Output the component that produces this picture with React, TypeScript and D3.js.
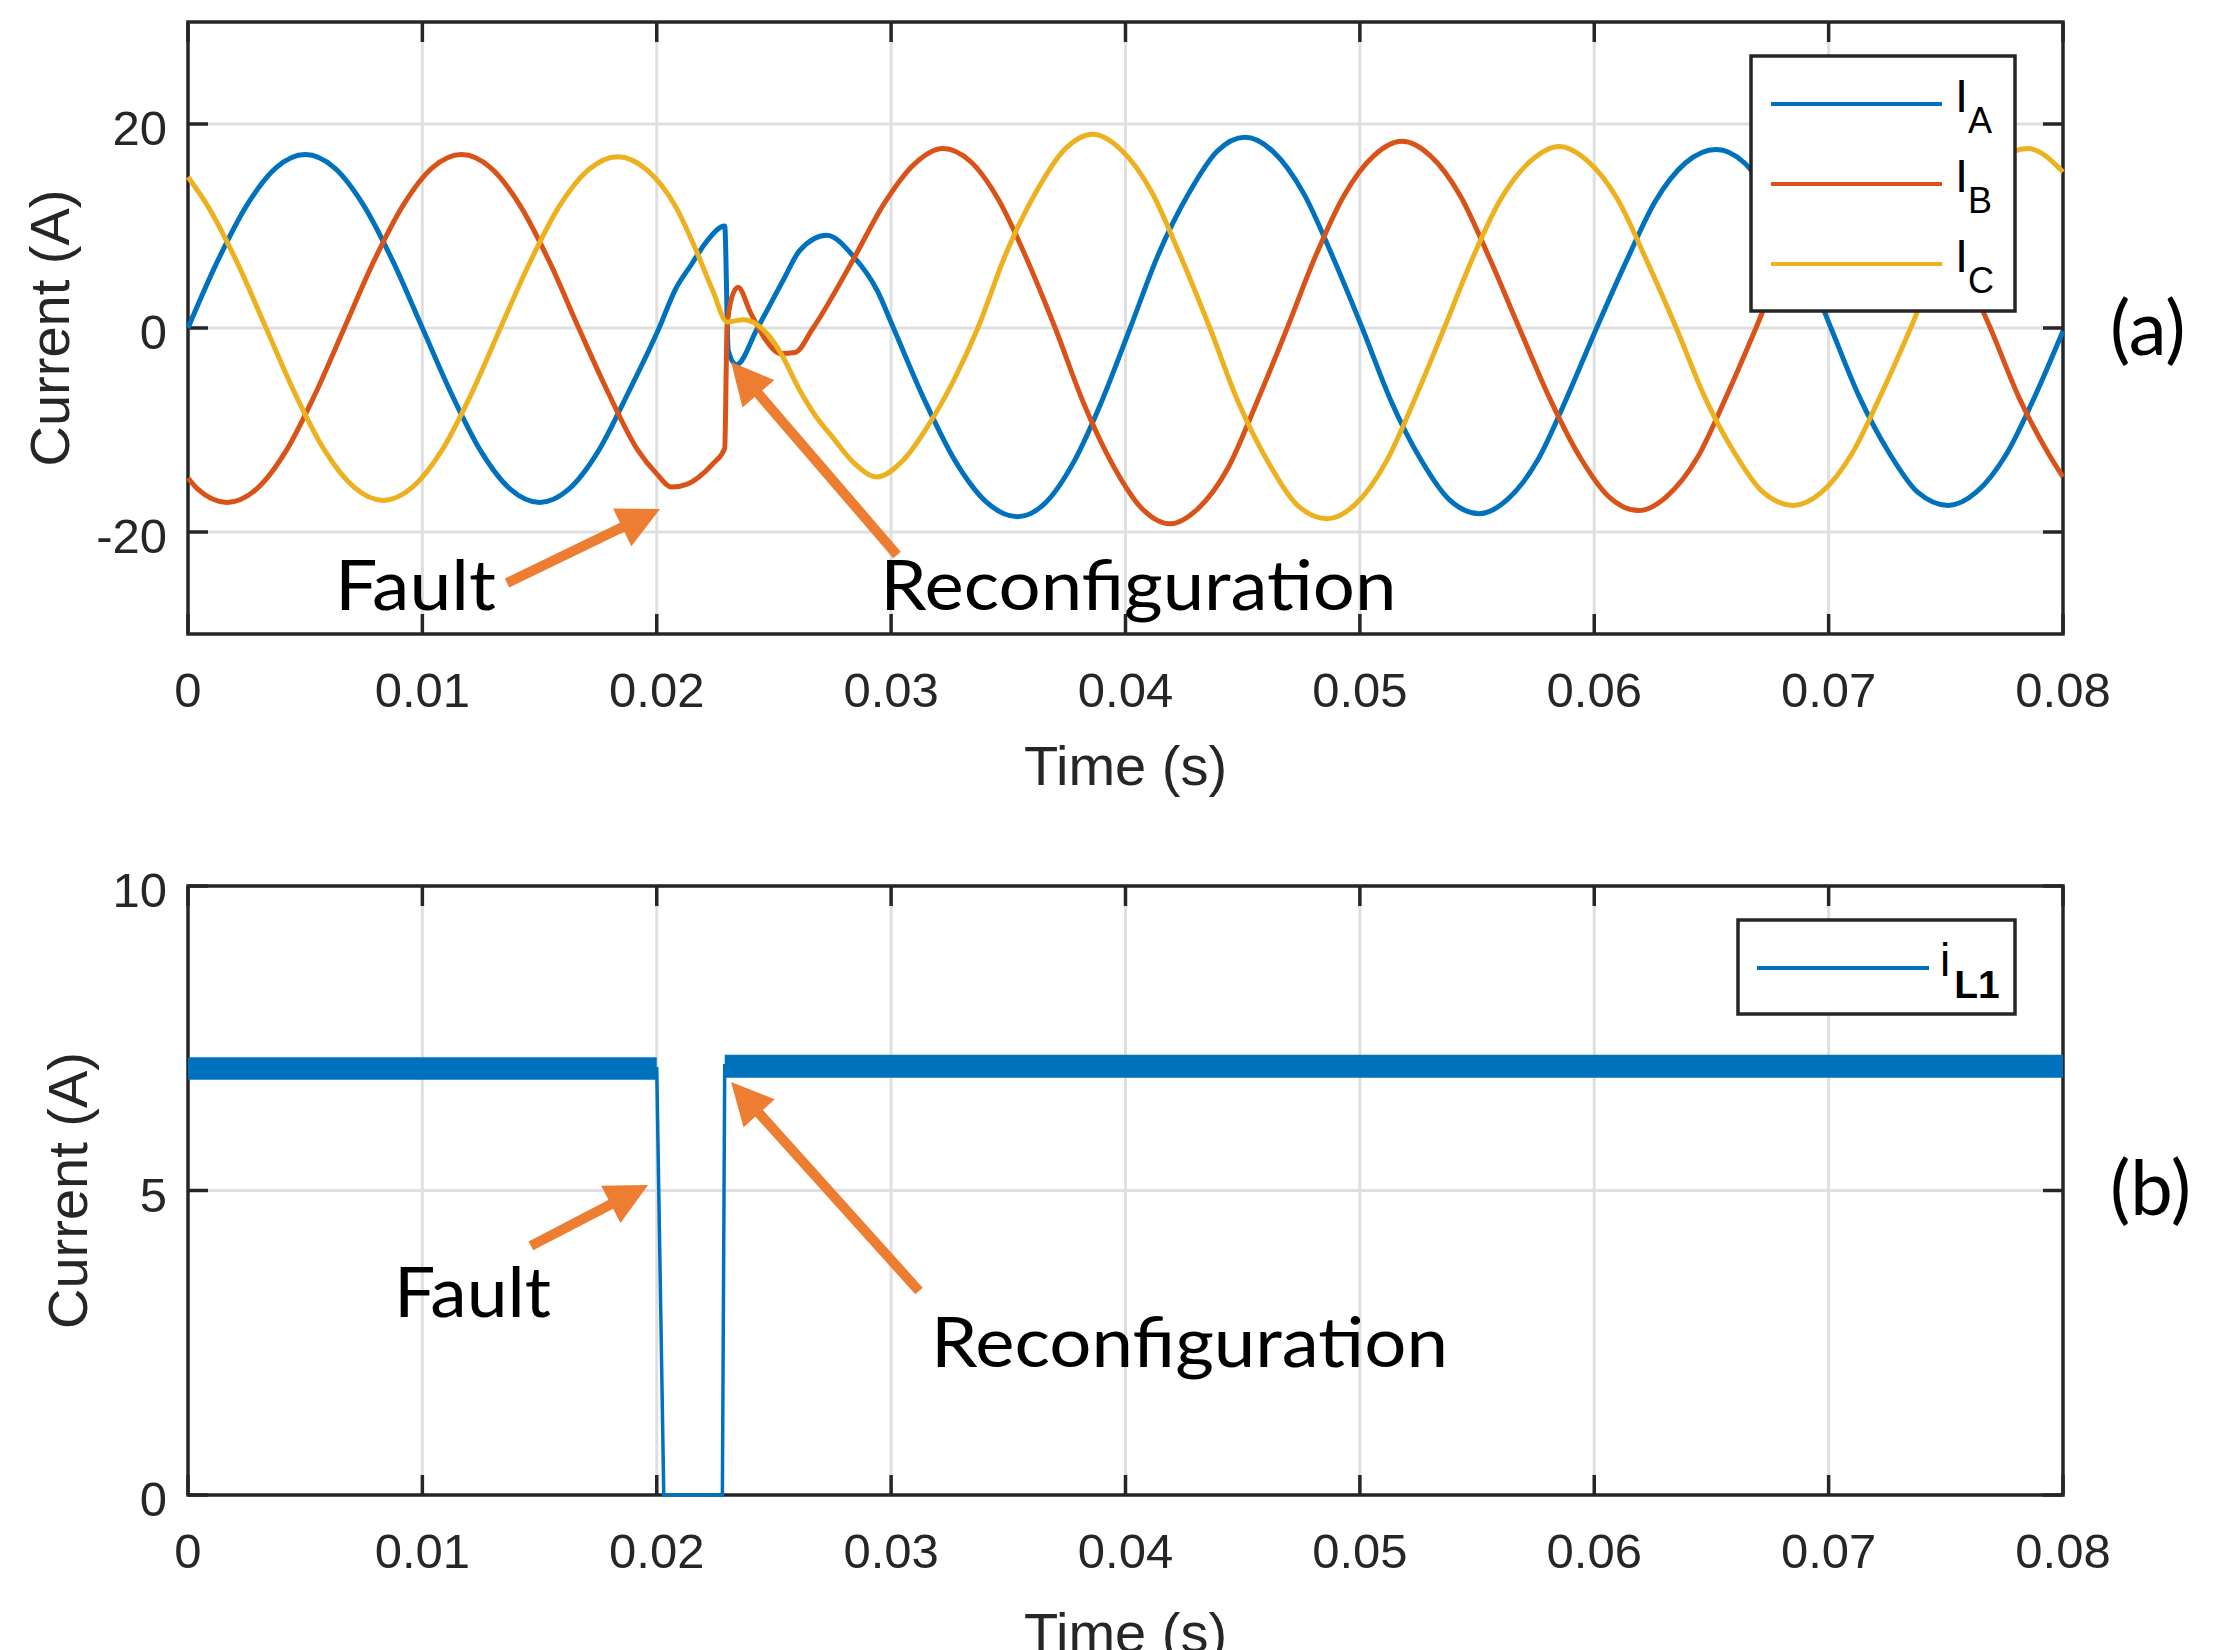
import React from 'react';
import * as d3 from 'd3';

// ---------- data ----------
const xTickValues = [0, 0.01, 0.02, 0.03, 0.04, 0.05, 0.06, 0.07, 0.08];
const xTickLabels = ['0', '0.01', '0.02', '0.03', '0.04', '0.05', '0.06', '0.07', '0.08'];
const yTicksA = [-20, 0, 20];
const yTickLabelsA = ['-20', '0', '20'];
const yTicksB = [0, 5, 10];
const yTickLabelsB = ['0', '5', '10'];

// phase A current (A) vs time (s)
const tIA = [
  0, 0.00125, 0.0025, 0.00375, 0.005, 0.00625, 0.0075, 0.00875, 0.01, 0.01125, 0.0125, 0.01375, 0.015, 0.01625, 0.0175, 0.01875, 0.0201,
  0.0208, 0.0215, 0.0221, 0.0229, 0.02305, 0.0234, 0.0243, 0.0254, 0.0261, 0.02725, 0.0284, 0.0294, 0.0301,
  0.03143, 0.03275, 0.03408, 0.0354, 0.0366, 0.0378, 0.039, 0.0402, 0.0414, 0.0427, 0.0439, 0.0451, 0.0463, 0.0476, 0.0488, 0.0501,
  0.0513, 0.0526, 0.0538, 0.0551, 0.0563, 0.0576, 0.0588, 0.0601, 0.0614, 0.0626, 0.0639, 0.0652, 0.0664, 0.0676, 0.0689, 0.0701,
  0.0713, 0.0726, 0.0738, 0.0751, 0.0763, 0.0776, 0.0788, 0.08,
];
const vIA = [
  0, 6.5, 12.0, 15.7, 17.0, 15.7, 12.0, 6.5, 0, -6.5, -12.1, -15.8, -17.1, -15.8, -12.1, -6.5, 0,
  3.8, 6.3, 8.4, 10.0, -2.2, -3.6, 0, 4.7, 7.6, 9.1, 7.0, 3.7, 0,
  -7.1, -13.1, -17.1, -18.5, -17.1, -13.1, -7.1, 0, 7.2, 13.2, 17.3, 18.7, 17.3, 13.2, 7.2, 0,
  -7.0, -12.9, -16.8, -18.2, -16.8, -12.9, -7.0, 0, 6.7, 12.4, 16.2, 17.5, 16.2, 12.4, 6.7, 0,
  -6.7, -12.3, -16.1, -17.4, -16.1, -12.3, -6.7, -0.3,
];

// phase B current
const tIB = [
  0, 0.00042, 0.00167, 0.00292, 0.00417, 0.00542, 0.00667, 0.00792, 0.00917, 0.01042, 0.01167, 0.01292, 0.01417, 0.01542, 0.01667, 0.01792, 0.01917, 0.02,
  0.02064, 0.0213, 0.0218, 0.0224, 0.0229, 0.023, 0.0232, 0.02347, 0.024, 0.0246, 0.0253, 0.0259, 0.02667, 0.02838, 0.0297, 0.031, 0.0322,
  0.0334, 0.0346, 0.0358, 0.037, 0.0382, 0.0395, 0.0407, 0.0419, 0.0431, 0.0444, 0.0456, 0.0469, 0.0481, 0.0493, 0.0506, 0.0518,
  0.053, 0.0543, 0.0555, 0.0568, 0.0581, 0.0594, 0.0606, 0.0619, 0.0631, 0.0644, 0.0656, 0.0669, 0.0681, 0.0694, 0.0706, 0.0719,
  0.0731, 0.0744, 0.0756, 0.0769, 0.0781, 0.0794, 0.08,
];
const vIB = [
  -14.7, -15.8, -17.1, -15.8, -12.1, -6.5, 0, 6.5, 12.0, 15.7, 17.0, 15.7, 12.0, 6.5, 0, -6.3, -11.9, -14.3,
  -15.6, -15.3, -14.6, -13.3, -11.8, 0, 3.0, 4.0, 1.5, -1.0, -2.5, -2.4, 0, 6.7, 12.2, 16.1, 17.6,
  16.3, 12.5, 6.7, 0, -7.3, -13.6, -17.7, -19.2, -17.7, -13.6, -7.3, 0, 7.0, 12.9, 16.9, 18.3,
  16.9, 12.9, 7.0, 0, -6.9, -12.7, -16.5, -17.9, -16.5, -12.7, -6.9, 0, 6.7, 12.4, 16.2, 17.5,
  16.2, 12.4, 6.7, 0, -6.7, -12.4, -14.6,
];

// phase C current
const tIC = [
  0, 0.00083, 0.00208, 0.00333, 0.00458, 0.00583, 0.00708, 0.00833, 0.00958, 0.01083, 0.01208, 0.01333, 0.01458, 0.01583, 0.01708, 0.01833, 0.01958, 0.02083,
  0.0217, 0.0224, 0.023, 0.0237, 0.0243, 0.0248, 0.0253, 0.0261, 0.0268, 0.0275, 0.0284, 0.0294, 0.0305, 0.0316, 0.0327, 0.0337,
  0.0349, 0.0362, 0.0374, 0.0386, 0.0398, 0.0411, 0.0423, 0.0436, 0.0448, 0.0461, 0.0473, 0.0486, 0.0498, 0.0511, 0.0523, 0.0536,
  0.0548, 0.056, 0.0573, 0.0585, 0.0597, 0.061, 0.0622, 0.0635, 0.0647, 0.066, 0.0672, 0.0685, 0.0697, 0.071, 0.0722, 0.0735,
  0.0747, 0.076, 0.0772, 0.0785, 0.08,
];
const vIC = [
  14.8, 12.0, 6.5, 0, -6.5, -12.0, -15.6, -16.9, -15.6, -12.0, -6.5, 0, 6.4, 11.9, 15.5, 16.8, 15.5, 11.8,
  7.5, 3.6, 0.6, 0.8, 0.3, -0.8, -2.5, -6.1, -8.7, -10.7, -13.2, -14.6, -13.0, -9.5, -5.0, 0,
  7.3, 13.4, 17.5, 19.0, 17.5, 13.4, 7.3, 0, -7.2, -13.2, -17.3, -18.7, -17.3, -13.2, -7.2, 0,
  6.8, 12.6, 16.4, 17.8, 16.4, 12.6, 6.8, 0, -6.7, -12.3, -16.1, -17.4, -16.1, -12.3, -6.7, 0,
  6.7, 12.4, 16.3, 17.6, 15.3,
];

// inductor current iL1
const tL1 = [0, 0.02, 0.0203, 0.0228, 0.0229, 0.08];
const vL1 = [7.0, 7.0, 0, 0, 7.05, 7.05];
// switching-ripple band (two steady segments)
const rippleStart = [0, 0.0229];
const rippleEnd = [0.02, 0.08];
const rippleLo = [6.82, 6.85];
const rippleHi = [7.19, 7.23];

const seriesA = [
  { name: 'A', t: tIA, v: vIA, color: '#0072BD' },
  { name: 'B', t: tIB, v: vIB, color: '#D95319' },
  { name: 'C', t: tIC, v: vIC, color: '#EDB120' },
];

// annotations in data coordinates: [tTail, vTail, tTip, vTip]
const arrowsA = [
  [0.01361, -25.0, 0.02014, -17.75],
  [0.03025, -22.25, 0.02317, -3.33],
];
const arrowsB = [
  [0.01463, 4.09, 0.01963, 5.09],
  [0.03119, 3.35, 0.02317, 6.78],
];
const labelsA = [
  { text: 'Fault', t: 0.00627, v: -27.65, len: 161 },
  { text: 'Reconfiguration', t: 0.02954, v: -27.65, len: 516 },
];
const labelsB = [
  { text: 'Fault', t: 0.00879, v: 2.93, len: 157 },
  { text: 'Reconfiguration', t: 0.0317, v: 2.1, len: 517 },
];

// ---------- layout ----------
const W = 2214;
const H = 1650;
const LEFT = 188;
const RIGHT = 2063;
const A_TOP = 22;
const A_BOT = 634;
const B_TOP = 886;
const B_BOT = 1495;

const AX = '#262626';
const GRID = '#dfdfdf';
const ORANGE = '#ED7D31';
const TICKFONT = "'Liberation Sans', Arial, Helvetica, sans-serif";
const ANNFONT = "Lato, 'Open Sans', sans-serif";

const x = d3.scaleLinear().domain([0, 0.08]).range([LEFT, RIGHT]);
const yA = d3.scaleLinear().domain([-30, 30]).range([A_BOT, A_TOP]);
const yB = d3.scaleLinear().domain([0, 10]).range([B_BOT, B_TOP]);

function Arrow({ x1, y1, x2, y2 }: { x1: number; y1: number; x2: number; y2: number }) {
  const dx = x2 - x1;
  const dy = y2 - y1;
  const L = Math.hypot(dx, dy);
  const ux = dx / L;
  const uy = dy / L;
  const hl = 42;
  const hw = 21;
  const bx = x2 - ux * hl;
  const by = y2 - uy * hl;
  const px = -uy;
  const py = ux;
  return (
    <g>
      <line x1={x1} y1={y1} x2={bx + ux * 4} y2={by + uy * 4} stroke={ORANGE} strokeWidth={10} />
      <polygon
        points={`${x2},${y2} ${bx + px * hw},${by + py * hw} ${bx - px * hw},${by - py * hw}`}
        fill={ORANGE}
      />
    </g>
  );
}

function Frame({ top, bot, y, yTicks, yLabels, ylabX, xlabY, clipId }: any) {
  return (
    <g>
      {xTickValues.slice(1, -1).map((t) => (
        <line key={'gx' + t} x1={x(t)} x2={x(t)} y1={top} y2={bot} stroke={GRID} strokeWidth={3} />
      ))}
      {yTicks.map((v: number) => (
        <line key={'gy' + v} x1={LEFT} x2={RIGHT} y1={y(v)} y2={y(v)} stroke={GRID} strokeWidth={3} />
      ))}
      {xTickValues.map((t) => (
        <g key={'tx' + t}>
          <line x1={x(t)} x2={x(t)} y1={bot} y2={bot - 20} stroke={AX} strokeWidth={3.5} />
          <line x1={x(t)} x2={x(t)} y1={top} y2={top + 20} stroke={AX} strokeWidth={3.5} />
        </g>
      ))}
      {yTicks.map((v: number) => (
        <g key={'ty' + v}>
          <line x1={LEFT} x2={LEFT + 20} y1={y(v)} y2={y(v)} stroke={AX} strokeWidth={3.5} />
          <line x1={RIGHT} x2={RIGHT - 20} y1={y(v)} y2={y(v)} stroke={AX} strokeWidth={3.5} />
        </g>
      ))}
      <rect x={LEFT} y={top} width={RIGHT - LEFT} height={bot - top} fill="none" stroke={AX} strokeWidth={3.5} />
      {xTickValues.map((t, i) => (
        <text key={'lx' + t} x={x(t)} y={bot + 73} textAnchor="middle" fontFamily={TICKFONT} fontSize={49} fill={AX}>
          {xTickLabels[i]}
        </text>
      ))}
      {yTicks.map((v: number, i: number) => (
        <text key={'ly' + v} x={167} y={y(v) + 21} textAnchor="end" fontFamily={TICKFONT} fontSize={49} fill={AX}>
          {yLabels[i]}
        </text>
      ))}
      <text
        transform={`translate(${ylabX},${(top + bot) / 2}) rotate(-90)`}
        textAnchor="middle"
        fontFamily={TICKFONT}
        fontSize={56}
        fill={AX}
      >
        Current (A)
      </text>
      <text x={(LEFT + RIGHT) / 2} y={xlabY} textAnchor="middle" fontFamily={TICKFONT} fontSize={56} fill={AX}>
        Time (s)
      </text>
      <clipPath id={clipId}>
        <rect x={LEFT - 3} y={top - 3} width={RIGHT - LEFT + 6} height={bot - top + 6} />
      </clipPath>
    </g>
  );
}

export default function App() {
  const lineA = (t: number[], v: number[]) =>
    d3
      .line<number>()
      .x((_, i) => x(t[i]))
      .y((d) => yA(d))
      .curve(d3.curveMonotoneX)(v) as string;

  const lineL1 = d3
    .line<number>()
    .x((_, i) => x(tL1[i]))
    .y((d) => yB(d))
    .curve(d3.curveLinear)(vL1) as string;

  const bands = rippleStart.map((s, i) =>
    d3
      .area<number>()
      .x((d) => x(d))
      .y0(yB(rippleLo[i]))
      .y1(yB(rippleHi[i]))([s, rippleEnd[i]]) as string
  );

  return (
    <svg
      width={W}
      height={H}
      viewBox={`0 0 ${W} ${H}`}
      style={{ position: 'absolute', left: 0, top: 0, background: '#fff', overflow: 'hidden' }}
    >
      <rect x={0} y={0} width={W} height={H} fill="#fff" />

      {/* ---------- panel (a) ---------- */}
      <Frame top={A_TOP} bot={A_BOT} y={yA} yTicks={yTicksA} yLabels={yTickLabelsA} ylabX={69} xlabY={785} clipId="clipA" />
      <g clipPath="url(#clipA)">
        {seriesA.map((s) => (
          <path key={s.name} d={lineA(s.t, s.v)} fill="none" stroke={s.color} strokeWidth={5} strokeLinejoin="round" />
        ))}
      </g>
      {arrowsA.map((a, i) => (
        <Arrow key={'aa' + i} x1={x(a[0])} y1={yA(a[1])} x2={x(a[2])} y2={yA(a[3])} />
      ))}
      {labelsA.map((l) => (
        <text key={'la' + l.text} x={x(l.t)} y={yA(l.v)} fontFamily={ANNFONT} fontSize={70} fill="#000" textLength={l.len} lengthAdjust="spacingAndGlyphs">
          {l.text}
        </text>
      ))}
      <rect x={1751} y={56} width={264} height={255} fill="#fff" stroke={AX} strokeWidth={3.5} />
      {seriesA.map((s, i) => (
        <g key={'lg' + s.name}>
          <line x1={1771} x2={1942} y1={104 + i * 80} y2={104 + i * 80} stroke={s.color} strokeWidth={4} />
          <text x={1955} y={112 + i * 80} fontFamily={TICKFONT} fontSize={47} fill="#000">
            I
            <tspan fontSize={36} dy={21}>{s.name}</tspan>
          </text>
        </g>
      ))}
      <text x={2110} y={355} fontFamily={ANNFONT} fontSize={76} fill="#000">(a)</text>

      {/* ---------- panel (b) ---------- */}
      <Frame top={B_TOP} bot={B_BOT} y={yB} yTicks={yTicksB} yLabels={yTickLabelsB} ylabX={87} xlabY={1652} clipId="clipB" />
      <g clipPath="url(#clipB)">
        {bands.map((d, i) => (
          <path key={'band' + i} d={d} fill="#0072BD" />
        ))}
        <path d={lineL1} fill="none" stroke="#0072BD" strokeWidth={3.5} />
      </g>
      {arrowsB.map((a, i) => (
        <Arrow key={'ab' + i} x1={x(a[0])} y1={yB(a[1])} x2={x(a[2])} y2={yB(a[3])} />
      ))}
      {labelsB.map((l) => (
        <text key={'lb' + l.text} x={x(l.t)} y={yB(l.v)} fontFamily={ANNFONT} fontSize={70} fill="#000" textLength={l.len} lengthAdjust="spacingAndGlyphs">
          {l.text}
        </text>
      ))}
      <rect x={1738} y={920} width={277} height={94} fill="#fff" stroke={AX} strokeWidth={3.5} />
      <line x1={1757} x2={1929} y1={968} y2={968} stroke="#0072BD" strokeWidth={4} />
      <text x={1940} y={976} fontFamily={TICKFONT} fontSize={46} fill="#000">
        i
        <tspan fontSize={39} fontWeight="bold" dx={4} dy={22}>L1</tspan>
      </text>
      <text x={2110} y={1215} fontFamily={ANNFONT} fontSize={76} fill="#000">(b)</text>
    </svg>
  );
}
